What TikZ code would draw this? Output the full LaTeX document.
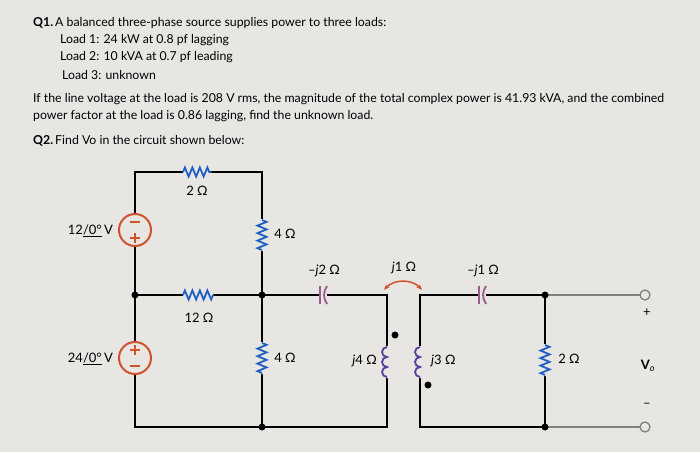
\documentclass[tikz,border=0pt]{standalone}
\usepackage{fontspec}
\setmainfont{Lato}
\usetikzlibrary{decorations.pathmorphing, arrows.meta}
\definecolor{srccol}{HTML}{D0522B}
\definecolor{rescol}{HTML}{1F5FC4}
\definecolor{capcol}{HTML}{9A5A8C}
\definecolor{indcol}{HTML}{5B3F9C}
\definecolor{bgcol}{HTML}{E7E6E3}
\tikzset{
    wire/.style={black, line width=2pt},
    res/.style={rescol, line width=1.8pt, decorate,
        decoration={zigzag, segment length=7.5pt, amplitude=4.5pt}},
    src/.style={srccol, line width=2pt, fill=bgcol},
    sgn/.style={srccol, line width=1.4pt},
    capa/.style={capcol, line width=1.8pt},
    ind/.style={indcol, line width=1.8pt},
    dot/.style={circle, fill=black, inner sep=0pt, minimum size=7pt},
    term/.style={circle, draw=gray, line width=1.3pt, fill=bgcol, inner sep=0pt, minimum size=10pt},
    lbl/.style={font=\fontsize{13}{14}\selectfont, inner sep=1pt},
    txt/.style={font=\fontsize{12.3}{14}\selectfont, anchor=west, inner sep=0pt}
}
\begin{document}
\begin{tikzpicture}[x=1pt, y=-1pt]
    \fill[bgcol] (0,0) rectangle (700,452);
    \useasboundingbox (0,0) rectangle (700,452);

    % question text
    \node[txt] (q1) at (33,23) {\textbf{Q1.}\,A balanced three-phase source supplies power to three loads:};
    \node[txt] (l1) at (60,40) {Load 1: 24 kW at 0.8 pf lagging};
    \node[txt] (l2) at (60,57) {Load 2: 10 kVA at 0.7 pf leading};
    \node[txt] (l3) at (62,75) {Load 3: unknown};
    \node[txt] (t1) at (33,99) {If the line voltage at the load is 208 V rms, the magnitude of the total complex power is 41.93 kVA, and the combined};
    \node[txt] (t2) at (33,116) {power factor at the load is 0.86 lagging, find the unknown load.};
    \node[txt] (q2) at (33,141) {\textbf{Q2.}\,Find Vo in the circuit shown below:};

    % corners and nodes
    \coordinate (tl) at (135,172);
    \coordinate (tr) at (262,172);
    \coordinate (ml) at (135,295);
    \coordinate (mr) at (262,295);
    \coordinate (bl) at (135,427);
    \coordinate (br) at (262,427);
    \coordinate (pt) at (387,295);
    \coordinate (pb) at (387,427);
    \coordinate (st) at (420,295);
    \coordinate (sb) at (420,427);
    \coordinate (ot) at (545,295);
    \coordinate (ob) at (545,427);

    % wires
    \draw[wire] (ml) -- (tl) -- (tr) -- (br) -- (bl) -- cycle;
    \draw[wire] (ml) -- (mr) -- (pt) -- (pb) -- (br);
    \draw[wire] (st) -- (ot) -- (ob) -- (sb) -- cycle;
    \draw[gray, line width=1.5pt] (ot) -- (645,295) (ob) -- (645,427);

    % resistors
    \fill[bgcol] (183,168) rectangle (211,176) (183,291) rectangle (213,299)
        (258,219) rectangle (266,251) (258,342) rectangle (266,374) (541,344) rectangle (549,376);
    \draw[res] (183,172) -- (211,172);
    \draw[res] (183,295) -- (213,295);
    \draw[res] (262,220) -- (262,250);
    \draw[res] (262,343) -- (262,373);
    \draw[res] (545,345) -- (545,375);
    \node[lbl] (r1) at (197,191) {2 Ω};
    \node[lbl] (r2) at (199,318) {12 Ω};
    \node[lbl] (r3) at (285,234) {4 Ω};
    \node[lbl] (r4) at (285,358) {4 Ω};
    \node[lbl] (r5) at (569,359) {2 Ω};

    % sources (signs drawn as strokes)
    \draw[src] (135,230) circle (16);
    \draw[src] (135,358) circle (16);
    \draw[sgn] (130,222) -- (140,222) (130,238) -- (140,238) (135,233) -- (135,243);
    \draw[sgn] (130,350) -- (140,350) (135,345) -- (135,355) (130,366) -- (140,366);
    \node[lbl, anchor=east] (v1) at (114,231) {12\underline{/0°}\,V};
    \node[lbl, anchor=east] (v2) at (114,359) {24\underline{/0°}\,V};

    % capacitors
    \foreach \cx/\txt in {322/{–\textit{j}2 Ω}, 481/{–\textit{j}1 Ω}}{
        \fill[bgcol] (\cx-3,289) rectangle (\cx+5,301);
        \draw[capa] (\cx-2,286) -- (\cx-2,304);
        \draw[capa] (\cx+5,286) .. controls (\cx+1,292) and (\cx+1,298) .. (\cx+5,304);
        \node[lbl] at (\cx+2,271) {\txt};
    }

    % coupled inductors
    \fill[bgcol] (383,346) rectangle (391,378) (416,346) rectangle (424,378);
    \draw[ind] (387,347) foreach \i in {1,...,3}{arc(-90:-270:5)};
    \draw[ind] (420,347) foreach \i in {1,...,3}{arc(-90:-270:5)};
    \node[dot] (d1) at (395,335) {};
    \node[dot] (d2) at (428,385) {};
    \node[lbl, anchor=east] (k1) at (378,361) {\textit{j}4 Ω};
    \node[lbl, anchor=west] (k2) at (430,361) {\textit{j}3 Ω};
    \draw[srccol, line width=1.5pt, {Stealth[length=6pt]}-{Stealth[length=6pt]}]
        (384,290) .. controls (394,279) and (412,279) .. (422,290);
    \node[lbl] (m) at (404,268) {\textit{j}1 Ω};

    % junctions and terminals
    \foreach \p in {mr, br, ml, ot, ob}
        \node[dot] at (\p) {};
    \node[term] (tp) at (645,295) {};
    \node[term] (tn) at (645,427) {};
    \node[lbl] (plus) at (647,313) {+};
    \node[lbl] (minus) at (647,405) {–};
    \node[lbl] (vo) at (648,366) {\textbf{V}\textsubscript{\textit{o}}};
\end{tikzpicture}
\end{document}
